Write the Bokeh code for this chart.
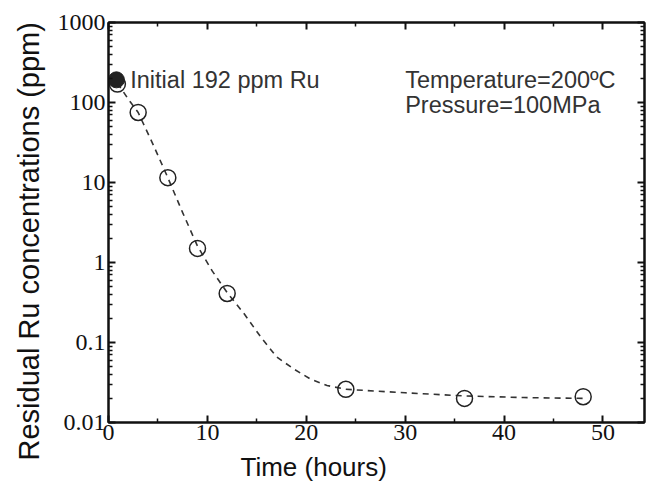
from bokeh.plotting import figure
from bokeh.models import (FixedTicker, LinearAxis, LogAxis, Label, CustomJSTickFormatter,
                          Range1d, Title)
from bokeh.embed import file_html
from bokeh.resources import INLINE

# measured data
time_h = [0.9, 3, 6, 9, 12, 24, 36, 48]
ru_ppm = [170, 75, 11.5, 1.5, 0.41, 0.026, 0.020, 0.021]

initial_time = [0.8]
initial_ppm = [192]

# fitted (dashed) curve
fit_time = [0.9, 2, 3, 4.5, 6, 7.5, 9, 10.5, 12, 13.7, 15.4, 17, 18.7, 20.4, 22.1, 24, 30, 36, 42, 48]
fit_ppm = [175, 110, 75, 30, 11.5, 4.2, 1.6, 0.78, 0.42, 0.23, 0.117, 0.066, 0.047, 0.035, 0.029,
           0.026, 0.0235, 0.0215, 0.0205, 0.020]

x_ticks = [0, 10, 20, 30, 40, 50]
x_minor = [5, 15, 25, 35, 45]
y_ticks = [0.01, 0.1, 1, 10, 100, 1000]
y_minor = [m * t for t in y_ticks[:-1] for m in range(2, 10)]

p = figure(width=646, height=488, y_axis_type="log", output_backend="svg",
           toolbar_location=None, x_range=Range1d(0, 54.2), y_range=Range1d(0.01, 1000),
           min_border_left=108, min_border_right=2, min_border_top=22, min_border_bottom=66)
p.background_fill_color = "#ffffff"
p.border_fill_color = "#ffffff"
p.grid.visible = False
p.outline_line_color = "#111111"
p.outline_line_width = 2

fmt = CustomJSTickFormatter(code="return tick.toString();")
blank = CustomJSTickFormatter(code="return '';")

def style_axis(ax, labels=True):
    ax.axis_line_width = 2
    ax.axis_line_color = "#111111"
    ax.major_tick_in = 7
    ax.major_tick_out = 0
    ax.minor_tick_in = 4
    ax.minor_tick_out = 0
    ax.major_tick_line_width = 2
    ax.minor_tick_line_width = 1.5
    ax.major_tick_line_color = "#111111"
    ax.minor_tick_line_color = "#111111"
    if labels:
        ax.major_label_text_font = "Liberation Serif"
        ax.major_label_text_font_size = "24px"
        ax.major_label_text_color = "#111111"
    else:
        ax.formatter = blank
        ax.major_label_text_font_size = "2px"
        ax.major_label_standoff = 0

xt = FixedTicker(ticks=x_ticks, minor_ticks=x_minor)
yt = FixedTicker(ticks=y_ticks, minor_ticks=y_minor)

p.xaxis.ticker = xt
p.yaxis.ticker = yt
p.yaxis.formatter = fmt
for ax in p.xaxis:
    style_axis(ax)
    ax.major_label_standoff = 2
for ax in p.yaxis:
    style_axis(ax)
    ax.major_label_standoff = 3

top = LinearAxis(ticker=FixedTicker(ticks=x_ticks, minor_ticks=x_minor))
style_axis(top, labels=False)
p.add_layout(top, "above")
right = LogAxis(ticker=FixedTicker(ticks=y_ticks, minor_ticks=y_minor))
style_axis(right, labels=False)
p.add_layout(right, "right")

xlabel = Title(text="Time (hours)", align="left", offset=132, standoff=14,
               text_font="Liberation Sans", text_font_size="26px",
               text_font_style="normal", text_color="#111111")
p.add_layout(xlabel, "below")
ylabel = Title(text="Residual Ru concentrations (ppm)", align="left", offset=-38, standoff=20,
               text_font="Liberation Sans", text_font_size="29px",
               text_font_style="normal", text_color="#111111")
p.add_layout(ylabel, "left")

p.line(fit_time, fit_ppm, line_color="#333333", line_width=1.6, line_dash="6 5")
p.scatter(time_h, ru_ppm, marker="circle", size=16, fill_color=None,
          line_color="#222222", line_width=1.5)
p.scatter(initial_time, initial_ppm, marker="circle", size=16, fill_color="#222222",
          line_color="#222222")

p.add_layout(Label(x=2.2, y=190, text="Initial 192 ppm Ru", text_font="Liberation Sans",
                   text_font_size="23.5px", text_color="#333333", text_baseline="alphabetic"))
p.add_layout(Label(x=30.0, y=190, text="Temperature=200ºC", text_font="Liberation Sans",
                   text_font_size="23.5px", text_color="#333333", text_baseline="alphabetic"))
p.add_layout(Label(x=30.0, y=92, text="Pressure=100MPa", text_font="Liberation Sans",
                   text_font_size="23.5px", text_color="#333333", text_baseline="alphabetic"))

open("out.html", "w").write(file_html(p, INLINE))
